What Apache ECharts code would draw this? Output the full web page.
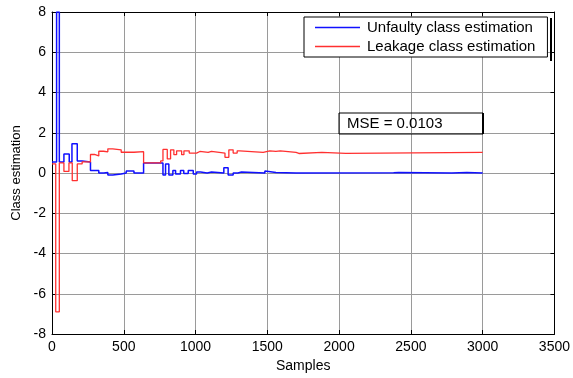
<!DOCTYPE html>
<html>
<head>
<meta charset="utf-8">
<script src="https://cdn.jsdelivr.net/npm/echarts@6/dist/echarts.min.js"></script>
<style>html,body{margin:0;padding:0;background:#fff}#c{width:573px;height:378px}</style>
</head>
<body>
<div id="c"></div>
<script>
// Tick labels
const xTicks = [0, 500, 1000, 1500, 2000, 2500, 3000, 3500];
const yTicks = [-8, -6, -4, -2, 0, 2, 4, 6, 8];
// Change points (sample index) and held values for each step series
const unfaultySamples = [0, 32, 51, 83, 120, 139, 176, 210, 268, 326, 361, 389, 423, 482, 517, 571, 638, 773, 791, 814, 842, 861, 895, 918, 949, 984, 1007, 1035, 1081, 1111, 1197, 1227, 1262, 1295, 1320, 1483, 1494, 1560, 1700, 2380, 2415, 2785, 2890, 3000];
const unfaultyValues  = [0.55, 8, 0.55, 0.95, 0.55, 1.45, 0.6, 0.55, 0.12, 0.0, 0.03, -0.1, -0.05, 0.0, 0.1, 0.0, 0.5, -0.1, 0.45, -0.1, 0.13, -0.05, 0.13, -0.02, 0.13, -0.05, 0.05, 0.0, 0.05, 0.0, 0.26, -0.1, 0.0, 0.05, 0.0, 0.1, 0.02, 0.0, 0.01, 0.03, 0.0, 0.02, 0.0, 0.0];
const leakageSamples = [0, 26, 51, 83, 118, 141, 176, 210, 268, 296, 326, 359, 389, 423, 482, 571, 638, 757, 773, 803, 826, 849, 868, 903, 919, 956, 1007, 1030, 1088, 1111, 1205, 1232, 1262, 1290, 1308, 1471, 1517, 1560, 1590, 1700, 1720, 1880, 2047, 3000];
const leakageValues  = [0.45, -6.9, 0.5, 0.08, 0.5, -0.38, 0.45, 0.55, 0.92, 0.85, 1.08, 1.05, 1.2, 1.15, 1.03, 1.06, 0.5, 0.6, 1.17, 0.7, 1.15, 0.91, 1.1, 0.91, 1.1, 0.99, 1.07, 1.02, 1.07, 0.99, 0.78, 1.15, 0.99, 1.1, 1.02, 1.1, 1.07, 1.1, 1.02, 0.97, 1.02, 0.98, 1.02, 1.02];
const seriesNames = ['Unfaulty class estimation', 'Leakage class estimation'];
const seriesColors = ['#1010ff', '#ff3030'];
const mseText = 'MSE = 0.0103';

const FONT = "'Liberation Sans', Arial, sans-serif";
const pairs = (xs, ys) => xs.map((x, i) => [x, ys[i]]);
const plain = v => String(v);

const chart = echarts.init(document.getElementById('c'), null, {renderer: 'canvas'});
function axis(extra) {
  return Object.assign({
    type: 'value',
    axisLine: {show: true, onZero: false, lineStyle: {color: '#000', width: 1}},
    axisTick: {show: true, inside: true, length: 4, lineStyle: {color: '#000'}},
    axisLabel: {show: false},
    splitLine: {show: false}
  }, extra);
}
chart.setOption({
  animation: false,
  backgroundColor: '#fff',
  color: seriesColors,
  grid: {left: 52, right: 18, top: 12, bottom: 38},
  xAxis: [
    axis({
      position: 'bottom', min: xTicks[0], max: xTicks[xTicks.length - 1], interval: 500,
      name: 'Samples', nameLocation: 'middle', nameGap: 25,
      nameTextStyle: {color: '#000', fontSize: 14, fontFamily: FONT},
      axisLabel: {show: true, color: '#000', fontSize: 14, fontFamily: FONT, margin: 6, formatter: plain},
      splitLine: {show: true, lineStyle: {color: '#9a9a9a', width: 1}}
    }),
    axis({position: 'top', min: xTicks[0], max: xTicks[xTicks.length - 1], interval: 500})
  ],
  yAxis: [
    axis({
      position: 'left', min: yTicks[0], max: yTicks[yTicks.length - 1], interval: 2,
      name: 'Class estimation', nameLocation: 'middle', nameGap: 28,
      nameTextStyle: {color: '#000', fontSize: 13, fontFamily: FONT},
      axisLabel: {show: true, color: '#000', fontSize: 14, fontFamily: FONT, margin: 6, formatter: plain},
      splitLine: {show: true, lineStyle: {color: '#9a9a9a', width: 1}}
    }),
    axis({position: 'right', min: yTicks[0], max: yTicks[yTicks.length - 1], interval: 2})
  ],
  legend: {
    orient: 'vertical', left: 304, top: 17,
    padding: [3, 12, 3, 11], itemGap: 4,
    itemWidth: 45, itemHeight: 1.4, icon: 'rect',
    backgroundColor: '#fff', borderColor: '#000', borderWidth: 1,
    textStyle: {color: '#000', fontSize: 15, fontFamily: FONT, padding: [0, 0, 0, 2]},
    data: seriesNames.map((n, i) => ({name: n, itemStyle: {color: seriesColors[i]}}))
  },
  series: seriesNames.map((n, i) => ({
    name: n, type: 'line', step: 'end', showSymbol: false, symbol: 'none',
    xAxisIndex: 0, yAxisIndex: 0,
    lineStyle: {color: seriesColors[i], width: i === 0 ? 1.5 : 1.3},
    itemStyle: {color: seriesColors[i]},
    emphasis: {disabled: true},
    data: i === 0 ? pairs(unfaultySamples, unfaultyValues) : pairs(leakageSamples, leakageValues),
    clip: true, z: 2 + i
  })),
  graphic: [
    {type: 'rect', shape: {x: 339, y: 113, width: 144, height: 21},
     style: {fill: 'none', stroke: '#000', lineWidth: 1}, z: 10},
    {type: 'line', shape: {x1: 483, y1: 113, x2: 483, y2: 134},
     style: {stroke: '#000', lineWidth: 2}, z: 10},
    {type: 'text', x: 347, y: 124,
     style: {text: mseText, fill: '#000', font: '15px ' + FONT, verticalAlign: 'middle'}, z: 10},
    {type: 'line', shape: {x1: 551, y1: 18, x2: 551, y2: 61},
     style: {stroke: '#000', lineWidth: 2}, z: 10}
  ]
});
</script>
</body>
</html>
